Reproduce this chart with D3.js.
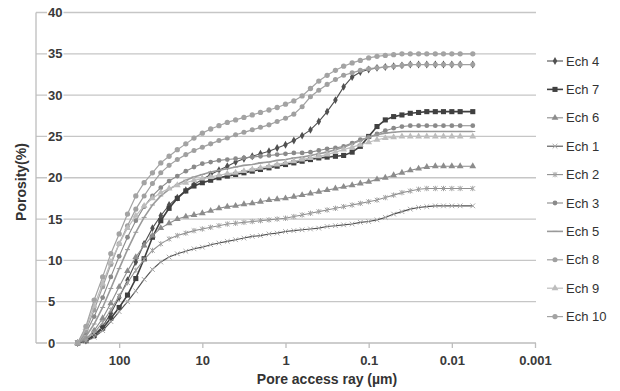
<!DOCTYPE html>
<html><head><meta charset="utf-8">
<script src="https://cdn.jsdelivr.net/npm/d3@7/dist/d3.min.js"></script>
<style>
html,body{margin:0;padding:0;background:#fff;}
svg{display:block;font-family:"Liberation Sans",Arial,sans-serif;}
</style></head>
<body>
<svg id="chart" width="620" height="391"></svg>
<script>
// Pore access radius (µm), shared by every sample
const poreRadius = [316, 251, 200, 158, 126, 100,
  79.4, 63.1, 50.1, 39.8, 31.6, 25.1, 20.0, 15.8, 12.6, 10.0,
  7.94, 6.31, 5.01, 3.98, 3.16, 2.51, 2.00, 1.58, 1.26, 1.00,
  0.794, 0.631, 0.501, 0.398, 0.316, 0.251, 0.200, 0.158, 0.126, 0.100,
  0.0794, 0.0631, 0.0501, 0.0398, 0.0316, 0.0251, 0.0200, 0.0158, 0.0126, 0.0100,
  0.00794, 0.0056];

const seriesNames = ["Ech 4", "Ech 7", "Ech 6", "Ech 1", "Ech 2", "Ech 3", "Ech 5", "Ech 8", "Ech 9", "Ech 10"];

const ech4 = [0, 0.3, 1.0, 2.0, 3.6, 5.5,
  7.6, 9.8, 12.0, 13.9, 15.4, 16.7, 17.6, 18.5, 19.2, 19.8,
  20.4, 20.9, 21.4, 21.9, 22.3, 22.6, 22.9, 23.2, 23.6, 24.0,
  24.5, 25.1, 25.8, 26.8, 28.0, 29.4, 31.0, 32.2, 32.8, 33.1,
  33.3, 33.4, 33.5, 33.6, 33.7, 33.7, 33.7, 33.7, 33.7, 33.7,
  33.7, 33.7];
const ech7 = [0, 0.3, 0.9, 1.8, 3.0, 4.3,
  5.8, 7.8, 10.2, 12.8, 14.8, 16.3, 17.5, 18.4, 19.0, 19.4,
  19.7, 20.0, 20.2, 20.4, 20.6, 20.8, 21.0, 21.2, 21.4, 21.6,
  21.8, 22.0, 22.2, 22.4, 22.5, 22.6, 22.7, 23.1, 23.8, 25.0,
  26.2, 27.0, 27.4, 27.6, 27.8, 27.9, 28.0, 28.0, 28.0, 28.0,
  28.0, 28.0];
const ech6 = [0, 0.5, 1.5, 3.0, 4.8, 6.8,
  8.7, 10.4, 11.8, 13.0, 13.9, 14.5, 15.0, 15.3, 15.5, 15.7,
  16.0, 16.3, 16.5, 16.6, 16.8, 16.9, 17.1, 17.3, 17.4, 17.5,
  17.7, 17.9, 18.1, 18.3, 18.5, 18.7, 18.9, 19.1, 19.3, 19.5,
  19.8, 20.0, 20.3, 20.6, 20.9, 21.1, 21.3, 21.4, 21.4, 21.4,
  21.4, 21.4];
const ech1 = [0, 0.2, 0.7, 1.5, 2.6, 3.8,
  5.0, 6.3, 7.7, 8.9, 9.8, 10.4, 10.8, 11.1, 11.4, 11.6,
  11.9, 12.1, 12.3, 12.5, 12.7, 12.9, 13.0, 13.2, 13.3, 13.5,
  13.6, 13.7, 13.8, 13.9, 14.1, 14.2, 14.3, 14.4, 14.6, 14.7,
  14.9, 15.2, 15.6, 15.9, 16.2, 16.4, 16.5, 16.6, 16.6, 16.6,
  16.6, 16.6];
const ech2 = [0, 0.4, 1.2, 2.5, 4.0, 5.7,
  7.3, 8.8, 10.1, 11.2, 12.0, 12.6, 13.0, 13.3, 13.6, 13.8,
  14.0, 14.2, 14.4, 14.5, 14.6, 14.7, 14.8, 14.9, 15.0, 15.1,
  15.3, 15.5, 15.7, 15.9, 16.1, 16.3, 16.5, 16.7, 16.9, 17.1,
  17.3, 17.6, 17.9, 18.2, 18.4, 18.6, 18.7, 18.7, 18.7, 18.7,
  18.7, 18.7];
const ech3 = [0, 1.2, 3.2, 5.5, 8.0, 10.5,
  12.8, 14.8, 16.5, 17.8, 18.8, 19.6, 20.2, 20.8, 21.3, 21.7,
  21.9, 22.1, 22.2, 22.3, 22.4, 22.5, 22.6, 22.7, 22.8, 22.9,
  23.0, 23.0, 23.1, 23.3, 23.5, 23.6, 23.8, 24.2, 24.6, 24.9,
  25.3, 25.7, 26.0, 26.2, 26.3, 26.3, 26.3, 26.3, 26.3, 26.3,
  26.3, 26.3];
const ech5 = [0, 0.8, 2.3, 4.3, 6.6, 9.0,
  11.3, 13.4, 15.2, 16.7, 17.8, 18.6, 19.2, 19.7, 20.1, 20.4,
  20.7, 20.9, 21.1, 21.3, 21.5, 21.6, 21.8, 21.9, 22.1, 22.2,
  22.4, 22.5, 22.7, 22.9, 23.1, 23.4, 23.7, 24.1, 24.5, 24.9,
  25.2, 25.4, 25.5, 25.6, 25.6, 25.6, 25.6, 25.6, 25.6, 25.6,
  25.6, 25.6];
const ech8 = [0, 1.5, 4.0, 6.8, 9.5, 12.0,
  14.2, 16.2, 17.8, 19.3, 20.6, 21.5, 22.2, 22.8, 23.3, 23.7,
  24.1, 24.5, 24.8, 25.2, 25.5, 25.8, 26.1, 26.4, 26.8, 27.2,
  27.7, 28.6, 29.8, 30.6, 31.3, 31.9, 32.4, 32.7, 33.0, 33.2,
  33.3, 33.4, 33.5, 33.6, 33.7, 33.7, 33.7, 33.7, 33.7, 33.7,
  33.7, 33.7];
const ech9 = [0, 1.8, 4.5, 7.2, 9.8, 12.0,
  13.9, 15.4, 16.6, 17.5, 18.2, 18.7, 19.1, 19.4, 19.7, 19.9,
  20.1, 20.3, 20.5, 20.6, 20.8, 21.0, 21.2, 21.4, 21.6, 21.8,
  22.0, 22.2, 22.4, 22.6, 22.8, 23.1, 23.4, 23.7, 24.0, 24.3,
  24.6, 24.8, 24.9, 25.0, 25.0, 25.0, 25.0, 25.0, 25.0, 25.0,
  25.0, 25.0];
const ech10 = [0, 2.0, 5.2, 8.0, 10.8, 13.2,
  15.6, 17.8, 19.4, 20.6, 21.8, 22.6, 23.4, 24.1, 24.8, 25.4,
  25.9, 26.3, 26.7, 27.0, 27.3, 27.6, 27.9, 28.2, 28.5, 28.9,
  29.3, 29.9, 30.8, 31.7, 32.4, 33.0, 33.5, 33.9, 34.2, 34.5,
  34.7, 34.8, 34.9, 35.0, 35.0, 35.0, 35.0, 35.0, 35.0, 35.0,
  35.0, 35.0];

const yTicks = [0, 5, 10, 15, 20, 25, 30, 35, 40];
const xTicks = [100, 10, 1, 0.1, 0.01, 0.001];
const xTickLabels = ["100", "10", "1", "0.1", "0.01", "0.001"];

const seriesValues = [ech4, ech7, ech6, ech1, ech2, ech3, ech5, ech8, ech9, ech10];

// ---- styles
const symX = {draw(ctx, size){const r=Math.sqrt(size)/2; ctx.moveTo(-r,-r);ctx.lineTo(r,r);ctx.moveTo(r,-r);ctx.lineTo(-r,r);}};
const symStar = {draw(ctx, size){const r=Math.sqrt(size)/2; ctx.moveTo(-r,-r);ctx.lineTo(r,r);ctx.moveTo(r,-r);ctx.lineTo(-r,r);ctx.moveTo(0,-r*1.2);ctx.lineTo(0,r*1.2);}};
const symDash = {draw(ctx, size){const r=Math.sqrt(size)/2; ctx.moveTo(-r,0);ctx.lineTo(r,0);}};
const styles = [
  {line:"#505050", mark:"#505050", sym:d3.symbolDiamond, size:18, w:1.1, stroke:false},
  {line:"#404040", mark:"#404040", sym:d3.symbolSquare, size:26, w:1.6, stroke:false},
  {line:"#8c8c8c", mark:"#8c8c8c", sym:d3.symbolTriangle, size:20, w:1.1, stroke:false},
  {line:"#505050", mark:"#a8a8a8", sym:symX, size:22, w:1.1, stroke:true},
  {line:"#909090", mark:"#a0a0a0", sym:symStar, size:20, w:1.1, stroke:true},
  {line:"#8a8a8a", mark:"#8a8a8a", sym:d3.symbolCircle, size:18, w:1.1, stroke:false},
  {line:"#9a9a9a", mark:"#9a9a9a", sym:symDash, size:25, w:1.6, stroke:true},
  {line:"#a0a0a0", mark:"#a0a0a0", sym:d3.symbolCircle, size:20, w:1.2, stroke:false},
  {line:"#bdbdbd", mark:"#bdbdbd", sym:d3.symbolTriangle, size:20, w:1.2, stroke:false},
  {line:"#a3a3a3", mark:"#a3a3a3", sym:d3.symbolCircle, size:22, w:1.2, stroke:false}
];

const svg = d3.select("#chart");
const x = d3.scaleLog().domain([1000, 0.001]).range([36, 535]);
const y = d3.scaleLinear().domain([0, 40]).range([343, 12.5]);

// gridlines
svg.append("g").selectAll("line").data(yTicks.filter(d=>d>0)).join("line")
  .attr("x1", 36).attr("x2", 536).attr("y1", d=>y(d)).attr("y2", d=>y(d))
  .attr("stroke", "#c6c6c6").attr("stroke-width", 1.3);

// axes lines
svg.append("line").attr("x1", 36).attr("x2", 36).attr("y1", y(40)).attr("y2", y(0))
  .attr("stroke", "#bdbdbd").attr("stroke-width", 1.3);

const xAxis = d3.axisBottom(x).tickValues(xTicks).tickFormat((d,i)=>xTickLabels[i]).tickSize(5).tickPadding(8);
const gx = svg.append("g").attr("transform", `translate(0,${y(0)})`).call(xAxis);
gx.select(".domain").attr("stroke", "#bdbdbd").attr("stroke-width", 1.3).attr("d", `M36,0H536`);
gx.selectAll(".tick line").attr("stroke", "#bdbdbd").attr("stroke-width", 1.3);
gx.selectAll(".tick text").attr("font-size", 13).attr("font-weight", "bold").attr("fill", "#3a3a3a")
  .attr("font-family", "Liberation Sans, Arial, sans-serif");

// y tick labels with white background over gridline
const gy = svg.append("g");
yTicks.forEach(v=>{
  const t = gy.append("text").attr("x", 48).attr("y", y(v)).attr("dy", "0.36em")
    .attr("font-size", 13).attr("font-weight", "bold").attr("fill", "#3a3a3a").text(v);
  const bb = t.node().getBBox();
  gy.insert("rect", "text").attr("x", bb.x - 1).attr("y", y(v) - 2).attr("width", bb.width + 2).attr("height", 4).attr("fill", "#fff");
});

// series
const line = d3.line().x((d,i)=>x(poreRadius[i])).y(d=>y(d));
const gs = svg.append("g");
seriesValues.forEach((vals, k)=>{
  const st = styles[k];
  const g = gs.append("g");
  g.append("path").attr("d", line(vals)).attr("fill", "none").attr("stroke", st.line).attr("stroke-width", st.w);
  const sym = d3.symbol().type(st.sym).size(st.size);
  g.selectAll("path.m").data(vals).join("path").attr("class", "m")
    .attr("transform", (d,i)=>`translate(${x(poreRadius[i])},${y(d)})`)
    .attr("d", sym)
    .attr("fill", st.stroke ? "none" : st.mark)
    .attr("stroke", st.stroke ? st.mark : "none").attr("stroke-width", 1);
});

// legend
const leg = svg.append("g");
seriesNames.forEach((name, k)=>{
  const st = styles[k];
  const ly = 61 + k * 28.4;
  leg.append("line").attr("x1", 547).attr("x2", 563).attr("y1", ly).attr("y2", ly).attr("stroke", st.line).attr("stroke-width", st.w);
  leg.append("path").attr("transform", `translate(555,${ly})`).attr("d", d3.symbol().type(st.sym).size(st.size)())
    .attr("fill", st.stroke ? "none" : st.mark).attr("stroke", st.stroke ? st.mark : "none").attr("stroke-width", 1);
  leg.append("text").attr("x", 566).attr("y", ly).attr("dy", "0.36em").attr("font-size", 13).attr("fill", "#333").text(name);
});

// axis titles
svg.append("text").attr("x", 327).attr("y", 384).attr("text-anchor", "middle")
  .attr("font-size", 14).attr("font-weight", "bold").attr("fill", "#333").text("Pore access ray (µm)");
svg.append("text").attr("transform", "translate(26,182) rotate(-90)").attr("text-anchor", "middle")
  .attr("font-size", 14).attr("font-weight", "bold").attr("fill", "#333").text("Porosity(%)");
</script>
</body></html>
